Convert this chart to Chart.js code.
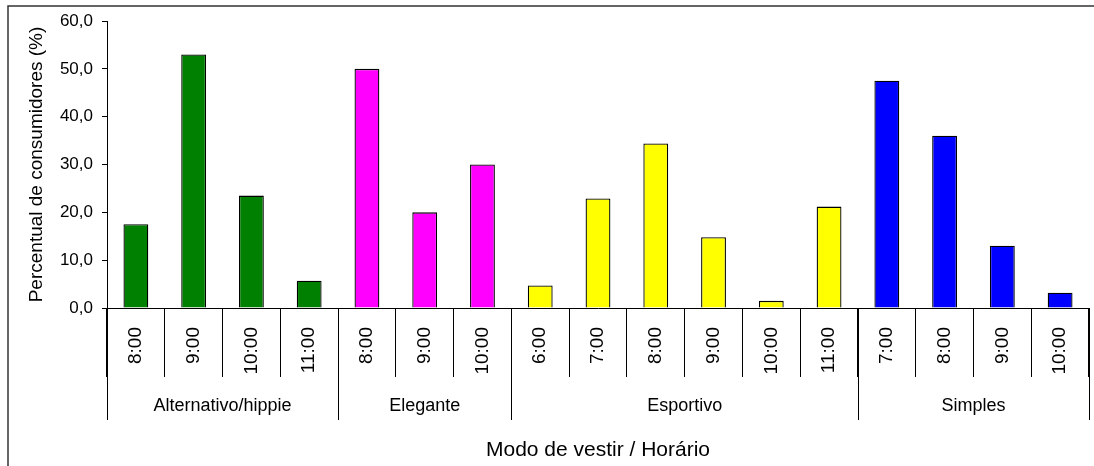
<!DOCTYPE html>
<html>
<head>
<meta charset="utf-8">
<script src="https://cdn.jsdelivr.net/npm/chart.js@4.4.0/dist/chart.umd.min.js"></script>
<style>
  body { margin: 0; background: #fff; }
</style>
</head>
<body>
<canvas id="myBarChart" width="1094" height="466"></canvas>
<script>
    // data
    const groups = ['Alternativo/hippie', 'Elegante', 'Esportivo', 'Simples'];
    const groupColors = ['#008000', '#FF00FF', '#FFFF00', '#0000FF'];
    const hoursAlternativo = ['8:00', '9:00', '10:00', '11:00'];
    const hoursElegante = ['8:00', '9:00', '10:00'];
    const hoursEsportivo = ['6:00', '7:00', '8:00', '9:00', '10:00', '11:00'];
    const hoursSimples = ['7:00', '8:00', '9:00', '10:00'];
    const valuesAlternativo = [17.5, 53.0, 23.5, 5.7];
    const valuesElegante = [50.0, 20.0, 30.0];
    const valuesEsportivo = [4.7, 22.9, 34.4, 14.8, 1.5, 21.2];
    const valuesSimples = [47.5, 36.0, 13.0, 3.2];

    const hourLists = [hoursAlternativo, hoursElegante, hoursEsportivo, hoursSimples];
    const valueLists = [valuesAlternativo, valuesElegante, valuesEsportivo, valuesSimples];

    const labels = [].concat(...hourLists);
    const values = [].concat(...valueLists);
    const colors = [];
    hourLists.forEach((h, g) => h.forEach(() => colors.push(groupColors[g])));

    const FONT = "'Liberation Sans', Arial, sans-serif";

    // group dividers + group labels + outer frame
    const groupAxis = {
      id: 'groupAxis',
      beforeDraw(chart) {
        const ctx = chart.ctx;
        ctx.save();
        ctx.strokeStyle = '#333';
        ctx.lineWidth = 1.5;
        ctx.beginPath();
        ctx.moveTo(8, chart.height + 2);
        ctx.lineTo(8, 6);
        ctx.lineTo(chart.width + 2, 6);
        ctx.stroke();
        ctx.restore();
      },
      afterDraw(chart) {
        const ctx = chart.ctx;
        const x = chart.scales.x;
        const area = chart.chartArea;
        const half = (x.getPixelForValue(1) - x.getPixelForValue(0)) / 2;
        ctx.save();
        ctx.strokeStyle = '#000';
        ctx.lineWidth = 1;
        ctx.fillStyle = '#000';
        ctx.font = '18px ' + FONT;
        ctx.textAlign = 'center';
        ctx.textBaseline = 'middle';
        let start = 0;
        hourLists.forEach((h, g) => {
          const end = start + h.length - 1;
          const x0 = x.getPixelForValue(start) - half;
          const x1 = x.getPixelForValue(end) + half;
          [x0, x1].forEach(px => {
            ctx.beginPath();
            ctx.moveTo(Math.round(px) + 0.5, area.bottom);
            ctx.lineTo(Math.round(px) + 0.5, area.bottom + 112);
            ctx.stroke();
          });
          ctx.fillText(groups[g], (x0 + x1) / 2, area.bottom + 98);
          start = end + 1;
        });
        ctx.restore();
      }
    };

    const data = {
      labels: labels,
      datasets: [{
        data: values,
        backgroundColor: colors,
        borderColor: '#000',
        borderWidth: 1.3,
        barPercentage: 0.43,
        categoryPercentage: 1
      }]
    };

    // config
    const config = {
      type: 'bar',
      data: data,
      plugins: [groupAxis],
      options: {
        responsive: false,
        animation: false,
        layout: { padding: { left: 0, top: 21, right: 5, bottom: 0 } },
        plugins: { legend: { display: false }, tooltip: { enabled: false } },
        scales: {
          x: {
            afterFit: s => { s.height = 158; },
            border: { display: true, color: '#000', width: 1 },
            grid: {
              offset: true,
              drawOnChartArea: false,
              drawTicks: true,
              tickLength: 69,
              color: '#000'
            },
            ticks: {
              minRotation: 90,
              maxRotation: 90,
              autoSkip: false,
              padding: -50,
              color: '#000',
              font: { family: FONT, size: 19 }
            },
            title: {
              display: true,
              text: 'Modo de vestir / Horário',
              color: '#000',
              font: { family: FONT, size: 21 },
              padding: { top: 0, bottom: 3 }
            }
          },
          y: {
            min: 0,
            max: 60,
            afterFit: s => { s.width = 107; },
            border: { display: true, color: '#000', width: 1 },
            grid: { drawOnChartArea: false, drawTicks: true, tickLength: 5, color: '#000' },
            ticks: {
              stepSize: 10,
              padding: 9,
              color: '#000',
              font: { family: FONT, size: 17 },
              callback: v => v.toFixed(1).replace('.', ',')
            },
            title: {
              display: true,
              text: 'Percentual de consumidores (%)',
              color: '#000',
              font: { family: FONT, size: 19 },
              padding: { top: 25, bottom: 0 }
            }
          }
        }
      }
    };

    // render init block
    const myChart = new Chart(
      document.getElementById('myBarChart'),
      config
    );
</script>
</body>
</html>
